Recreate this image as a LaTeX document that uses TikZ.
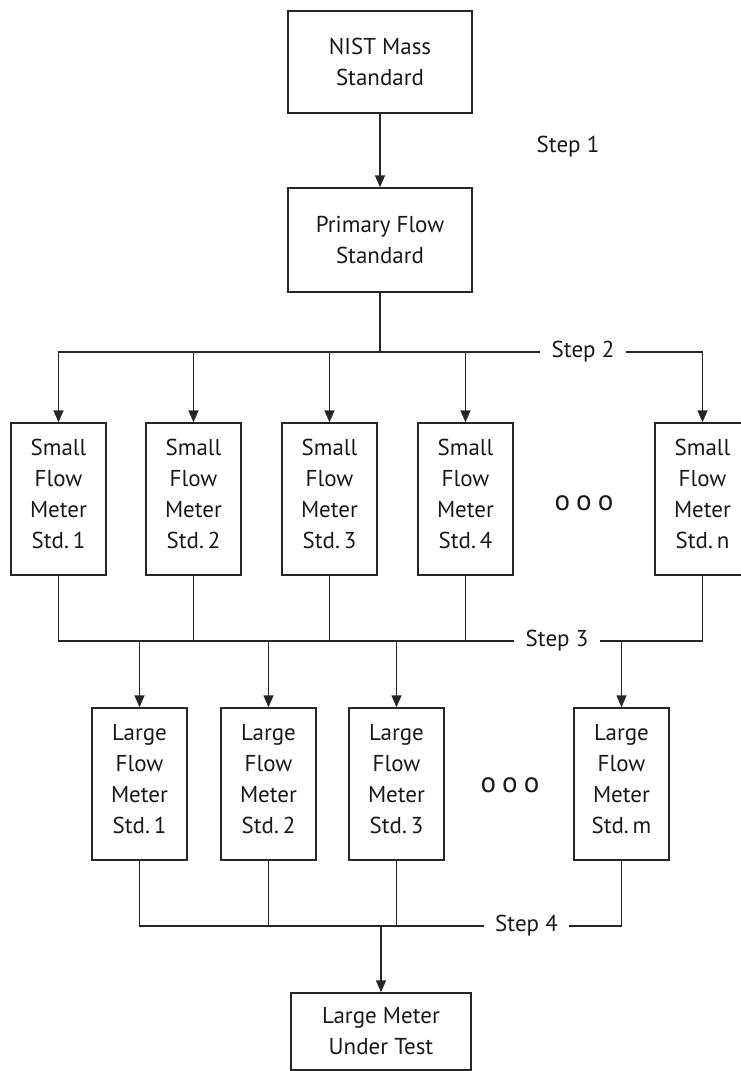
\documentclass[tikz,border=0pt]{standalone}
\usepackage{fontspec}
\setmainfont{PT Sans}
\usetikzlibrary{arrows.meta}
\begin{document}
\begin{tikzpicture}[x=1pt,y=1pt,
  line width=1.4pt, draw=black!85,
  every node/.style={font=\fontsize{23}{31}\selectfont, text=black!90},
  box/.style={draw, rectangle, align=center, inner sep=0pt},
  tallbox/.style={box, minimum width=95pt, minimum height=152pt, text depth=10pt},
  dots/.style={font=\fontsize{29}{31}\selectfont},
  steplabel/.style={inner xsep=11pt, inner ysep=2pt},
  arr/.style={-{Triangle[length=12pt,width=10pt]}}]
\useasboundingbox (0,0) rectangle (740,-1071);
% top boxes
\node[box, minimum width=184pt, minimum height=102pt] (nist) at (380,-62) {NIST Mass\\Standard};
\node[box, minimum width=184pt, minimum height=104pt] (prim) at (380,-240) {Primary Flow\\Standard};
\node (step1) at (568,-147) {Step 1};
\draw[arr] (nist.south) -- (prim.north);
% small flow meters
\node[tallbox] (s1) at (58.5,-499) {Small\\Flow\\Meter\\Std.\,1};
\node[tallbox] (s2) at (193.5,-499) {Small\\Flow\\Meter\\Std.\,2};
\node[tallbox] (s3) at (329.5,-499) {Small\\Flow\\Meter\\Std.\,3};
\node[tallbox] (s4) at (465.5,-499) {Small\\Flow\\Meter\\Std.\,4};
\node[tallbox] (sn) at (702.5,-499) {Small\\Flow\\Meter\\Std.\,n};
\node[dots] (sdots) at (584,-503) {o\hspace{6pt}o\hspace{6pt}o};
% step 2 bus
\node[steplabel] (step2) at (583,-352) {Step 2};
\coordinate (j2) at (380,-352);
\draw (prim.south) -- (j2);
\draw[arr] (j2) -| (s1.north);
\draw (j2) -- (step2.west);
\draw[arr] (s2.north |- j2) -- (s2.north);
\draw[arr] (s3.north |- j2) -- (s3.north);
\draw[arr] (s4.north |- j2) -- (s4.north);
\draw[arr] (step2.east) -| (sn.north);
% large flow meters
\node[tallbox] (l1) at (139.5,-784) {Large\\Flow\\Meter\\Std.\,1};
\node[tallbox] (l2) at (268.5,-784) {Large\\Flow\\Meter\\Std.\,2};
\node[tallbox] (l3) at (396.5,-784) {Large\\Flow\\Meter\\Std.\,3};
\node[tallbox] (lm) at (621.5,-784) {Large\\Flow\\Meter\\Std.\,m};
\node[dots] (ldots) at (510,-785) {o\hspace{6pt}o\hspace{6pt}o};
% step 3 bus
\node[steplabel] (step3) at (557,-641) {Step 3};
\draw (s1.south) |- (step3.west);
\draw (s2.south) -- (s2.south |- step3);
\draw (s3.south) -- (s3.south |- step3);
\draw (s4.south) -- (s4.south |- step3);
\draw (sn.south) |- (step3.east);
\draw[arr] (l1.north |- step3) -- (l1.north);
\draw[arr] (l2.north |- step3) -- (l2.north);
\draw[arr] (l3.north |- step3) -- (l3.north);
\draw[arr] (lm.north |- step3) -- (lm.north);
% final
\node[box, minimum width=180pt, minimum height=77pt] (final) at (381,-1031.5) {Large Meter\\Under Test};
\node[steplabel] (step4) at (526.5,-926) {Step 4};
\draw (l1.south) |- (step4.west);
\draw (l2.south) -- (l2.south |- step4);
\draw (l3.south) -- (l3.south |- step4);
\draw (lm.south) |- (step4.east);
\draw[arr] (final.north |- step4) -- (final.north);
\end{tikzpicture}
\end{document}
